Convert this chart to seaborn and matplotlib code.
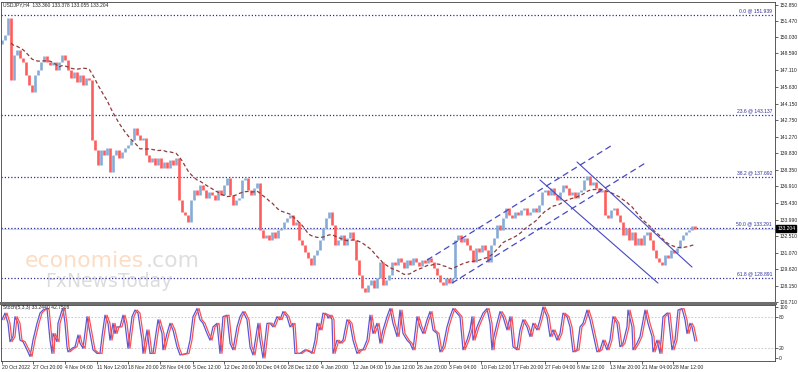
import numpy as np
import pandas as pd
import matplotlib
matplotlib.use("Agg")
import matplotlib.pyplot as plt
import matplotlib.transforms as mtransforms
import seaborn as sns

# USDJPY H4 closes, sampled every 3 bars (bar index = chart column)
closes = [
    149.77, 150.21, 151.71, 146.26, 148.46, 148.90, 148.19, 147.84, 146.70, 145.82,
    145.20, 146.70, 147.14, 147.84, 148.37, 147.84, 147.58, 147.84, 147.14, 147.84,
    148.46, 148.02, 147.14, 146.43, 146.96, 146.08, 146.70, 145.82, 146.43, 146.26,
    140.98, 140.11, 138.79, 140.11, 139.66, 140.28, 138.17, 139.66, 140.11, 139.40,
    139.93, 140.28, 140.54, 140.98, 142.04, 141.42, 140.98, 141.16, 139.66, 139.05,
    139.40, 138.79, 139.40, 138.52, 139.05, 138.52, 139.23, 138.79, 139.40, 135.71,
    134.66, 134.39, 133.78, 135.71, 136.59, 136.15, 137.03, 136.59, 135.89, 136.41,
    136.15, 135.71, 136.59, 136.15, 137.03, 137.64, 136.15, 135.27, 135.71, 135.89,
    137.47, 137.64, 136.59, 136.15, 136.76, 137.20, 133.07, 132.37, 132.63, 132.19,
    132.90, 132.37, 133.07, 133.25, 133.78, 134.13, 134.39, 133.51, 133.78, 132.19,
    131.75, 131.14, 130.61, 129.99, 130.87, 131.31, 132.19, 133.25, 134.13, 134.66,
    133.51, 131.75, 132.19, 132.63, 131.75, 132.37, 132.90, 132.19, 130.43, 129.12,
    127.98, 127.62, 128.24, 128.67, 127.98, 128.85, 130.26, 128.24, 128.67, 129.12,
    130.26, 129.99, 130.61, 130.26, 129.73, 130.43, 129.99, 130.61, 130.26, 129.91,
    130.43, 130.17, 130.61, 130.26, 129.73, 129.12, 128.50, 128.24, 128.85, 128.41,
    128.85, 132.19, 132.63, 132.02, 132.37, 131.75, 131.31, 130.26, 131.49, 131.14,
    131.75, 131.31, 130.26, 131.75, 132.37, 133.51, 133.07, 134.13, 135.01, 134.39,
    134.13, 134.66, 134.39, 134.83, 135.01, 134.39, 134.66, 135.01, 134.66, 135.27,
    136.41, 136.59, 136.15, 136.76, 136.15, 135.71, 136.41, 137.03, 136.76, 136.15,
    136.41, 135.89, 136.41, 136.59, 137.47, 137.82, 137.03, 137.29, 136.76, 136.41,
    136.59, 134.39, 134.13, 134.83, 135.01, 134.39, 133.78, 132.63, 133.25, 132.19,
    132.90, 131.75, 132.37, 131.75, 132.63, 132.90, 132.19, 131.31, 130.61, 130.26,
    129.99, 130.87, 130.61, 131.31, 131.05, 131.49, 132.19, 132.63, 132.90, 133.07,
    133.42, 133.20,
]
first_open = 149.40
bar_start, bar_step = 2, 3

# Stochastic(5,3,3) main line, read at its turning points
stoch_x = [
    2, 5, 8, 10, 13, 15, 18, 20, 23, 27, 30, 33, 37, 40, 43, 47, 50, 52, 53, 57,
    58, 62, 63, 65, 67, 68, 72, 75, 78, 80, 83, 87, 90, 93, 97, 100, 102, 105, 108, 110,
    113, 115, 117, 120, 123, 125, 128, 132, 135, 138, 142, 143, 147, 150, 153, 158, 162, 163, 167, 170,
    173, 177, 180, 187, 190, 193, 197, 200, 203, 207, 210, 213, 217, 220, 223, 227, 230, 233, 237, 240,
    243, 247, 250, 253, 258, 260, 263, 267, 270, 273, 277, 280, 283, 287, 290, 293, 295, 300,
    305, 310, 312, 315, 317, 320, 323, 327, 328, 330, 332, 333, 337, 340, 343, 347, 350, 353, 357, 360,
    363, 367, 370, 373, 377, 380, 383, 387, 390, 393, 397, 400, 403, 407, 410, 413, 417, 420, 423, 427,
    430, 433, 437, 440, 443, 447, 450, 453, 457, 460, 463, 467, 470, 472, 473, 477, 480, 483, 487, 490,
    492, 493, 497, 500, 503, 507, 510, 513, 517, 520, 523, 527, 530, 533, 537, 540, 543, 547, 550, 553,
    557, 560, 563, 567, 570, 573, 577, 580, 583, 587, 590, 593, 597, 600,
    603, 607, 610, 613, 617, 620, 623, 627, 628, 632, 633, 637, 640, 645, 648, 652, 653, 657, 660, 663,
    667, 668, 672, 675, 678, 682, 685, 687, 690, 692, 695,
]
stoch_k = [
    75, 88, 68, 32, 42, 81, 68, 35, 32, 16, 3, 35, 68, 88, 94, 97, 35, 9, 48, 32,
    68, 94, 97, 68, 22, 12, 19, 22, 45, 29, 19, 81, 48, 16, 9, 9, 42, 84, 68, 35,
    68, 48, 61, 61, 84, 68, 19, 81, 94, 88, 35, 9, 55, 9, 9, 75, 48, 16, 48, 68,
    55, 22, 6, 9, 35, 81, 97, 75, 68, 48, 35, 61, 68, 9, 81, 84, 29, 16, 61, 81,
    91, 75, 22, 6, 68, 35, 0, 68, 68, 61, 81, 75, 91, 81, 61, 68, 9, 9,
    16, 12, 9, 35, 68, 55, 88, 84, 78, 84, 75, 9, 35, 29, 35, 75, 68, 35, 9, 16,
    16, 35, 84, 48, 68, 29, 55, 81, 97, 68, 42, 94, 48, 35, 29, 16, 81, 61, 48, 75,
    91, 55, 48, 12, 22, 61, 81, 97, 88, 81, 16, 35, 55, 81, 35, 61, 75, 88, 97, 68,
    16, 35, 68, 91, 81, 55, 81, 22, 16, 55, 75, 61, 42, 68, 55, 75, 100, 81, 42, 55,
    35, 48, 88, 81, 61, 12, 16, 61, 68, 94, 75, 48, 12, 16,
    35, 16, 35, 81, 68, 22, 29, 61, 94, 61, 16, 29, 42, 94, 68, 42, 12, 35, 9, 81,
    88, 88, 16, 35, 94, 97, 75, 48, 68, 61, 33,
]
signal_lag = 2

fib_levels = [0.0, 23.6, 38.2, 50.0, 61.8]
fib_prices = [151.939, 143.137, 137.692, 133.291, 128.891]

# hand-drawn trendlines: (bar, price) end points
channel_up_upper = ([427, 614], [130.43, 140.63])
channel_up_lower = ([452, 647], [128.41, 139.05])
channel_dn_upper = ([577, 692], [139.05, 129.82])
channel_dn_lower = ([540, 658], [137.47, 128.41])

bid = 133.204
ohlc_title = "USDJPY,H4  133.360 133.378 133.055 133.204"
stoch_title = "Stoch(5,3,3) 33.2440 42.7508"

price_ticks = [152.850, 151.470, 150.030, 148.590, 147.110, 145.630, 144.150, 142.750,
               141.270, 139.830, 138.350, 136.910, 135.430, 133.990, 132.510, 131.070,
               129.620, 128.150, 126.710]
stoch_ticks = [100, 80, 20, 0]
date_pos = [2, 33, 65, 97, 128, 160, 193, 224, 256, 288, 321, 353, 385, 417, 449,
            481, 513, 545, 577, 610, 642, 673]
date_labels = ["20 Oct 2022", "27 Oct 20:00", "4 Nov 04:00", "11 Nov 12:00", "18 Nov 20:00",
               "28 Nov 04:00", "5 Dec 12:00", "12 Dec 20:00", "20 Dec 04:00", "28 Dec 12:00",
               "4 Jan 20:00", "12 Jan 04:00", "19 Jan 12:00", "26 Jan 20:00", "3 Feb 04:00",
               "10 Feb 12:00", "17 Feb 20:00", "27 Feb 04:00", "6 Mar 12:00", "13 Mar 20:00",
               "21 Mar 04:00", "28 Mar 12:00"]

UP, DOWN = "#86acd6", "#ff5c5c"
FIB = "#2e2e9c"
LINE = "#4848c4"

sns.set_style("white")
plt.rcParams['font.family'] = ['Liberation Sans', 'DejaVu Sans']

fig = plt.figure(figsize=(7.98, 3.72), dpi=100)
ax = fig.add_axes([1/798, 69/372, 774/798, 301/372])
ax2 = fig.add_axes([1/798, 11/372, 774/798, 56/372])

df = pd.DataFrame({"bar": bar_start + bar_step * np.arange(len(closes)), "close": closes})
df["prev"] = df["close"].shift(1).fillna(first_open)
df["lo"] = df[["prev", "close"]].min(axis=1)
df["hi"] = df[["prev", "close"]].max(axis=1)
df["up"] = df["close"] >= df["prev"]
df["ma"] = df["close"].rolling(17, min_periods=4).mean()

# watermark
wm = dict(transform=fig.transFigure, va="baseline", zorder=0, family="DejaVu Sans")
ax.text(25/798, 1 - 267/372, "economies", fontsize=15.8, color="#fddcc4", **wm)
ax.text(146/798, 1 - 267/372, ".com", fontsize=15.8, color="#dedede", **wm)
ax.text(45/798, 1 - 287/372, "FxNewsToday", fontsize=13.5, color="#dcdcdc", **wm)

for lvl, p in zip(fib_levels, fib_prices):
    ax.axhline(p, color=FIB, lw=0.9, ls=(0, (1, 1.6)), zorder=1)
    ax.text(772, p + 0.15, f"{lvl:.1f} @ {p:.3f}", fontsize=3.6, color=FIB,
            ha="right", va="bottom", zorder=1)
ax.axhline(bid, color="#bfe4ef", lw=0.8, zorder=0.9)

for up, col in [(True, UP), (False, DOWN)]:
    d = df[df["up"] == up]
    ax.vlines(d["bar"], d["lo"], d["hi"], color=col, lw=1.9, zorder=2)

sns.lineplot(data=df, x="bar", y="ma", ax=ax, color="#8e3b3b", lw=0.9,
             linestyle=(0, (3, 2)), zorder=3)

for (xs, ys), ls, lw in [(channel_up_upper, (0, (5, 3)), 0.9), (channel_up_lower, (0, (5, 3)), 0.9),
                         (channel_dn_upper, "-", 0.8), (channel_dn_lower, "-", 0.8)]:
    ax.plot(xs, ys, color=LINE, ls=ls, lw=lw, zorder=4)

ax.set_xlim(1, 775)
ax.set_ylim(126.66, 153.11)
ax.set_xticks([])
ax.yaxis.tick_right()
ax.set_yticks(price_ticks, [f"{t:.3f}" for t in price_ticks])
ax.tick_params(axis="y", length=2, width=0.5, pad=1, labelsize=3.6, right=True)
ax.set_xlabel("")
ax.set_ylabel("")
for s in ax.spines.values():
    s.set_color("#404040")
    s.set_linewidth(0.6)
ax.spines["bottom"].set_color("#6e6e6e")
ax.spines["bottom"].set_linewidth(2.2)

# current price tag
tr = mtransforms.blended_transform_factory(ax.transAxes, ax.transData)
ax.text(1.003, bid, f"{bid:.3f}", transform=tr, fontsize=3.6, color="white",
        va="center", ha="left", bbox=dict(fc="black", ec="black", pad=0.7), zorder=6)

# stochastic panel
st = pd.DataFrame({"bar": stoch_x, "k": stoch_k})
st["bar_sig"] = st["bar"] + signal_lag
for lvl in [20, 80]:
    ax2.axhline(lvl, color="#c4c4c4", lw=0.6, ls=(0, (2, 2)))
sns.lineplot(data=st, x="bar", y="k", ax=ax2, color="#5858d8", lw=0.9)
sns.lineplot(data=st, x="bar_sig", y="k", ax=ax2, color="#ff5050", lw=0.9)
ax2.set_xlim(1, 775)
ax2.set_ylim(-5.9, 103.9)
ax2.yaxis.tick_right()
ax2.set_yticks(stoch_ticks, [str(t) for t in stoch_ticks])
ax2.tick_params(axis="y", length=2, width=0.5, pad=1, labelsize=3.6, right=True)
ax2.set_xticks(date_pos, date_labels)
ax2.tick_params(axis="x", length=2, width=0.5, pad=1, labelsize=3.7, bottom=True)
for lbl in ax2.get_xticklabels():
    lbl.set_ha("left")
ax2.set_xlabel("")
ax2.set_ylabel("")
for s in ax2.spines.values():
    s.set_color("#404040")
    s.set_linewidth(0.6)

fig.text(3/798, 1 - 5/372, ohlc_title, fontsize=3.6, va="center", ha="left")
fig.text(3/798, 1 - 308/372, stoch_title, fontsize=3.6, va="center", ha="left")

fig.savefig("out.png", dpi=100)
